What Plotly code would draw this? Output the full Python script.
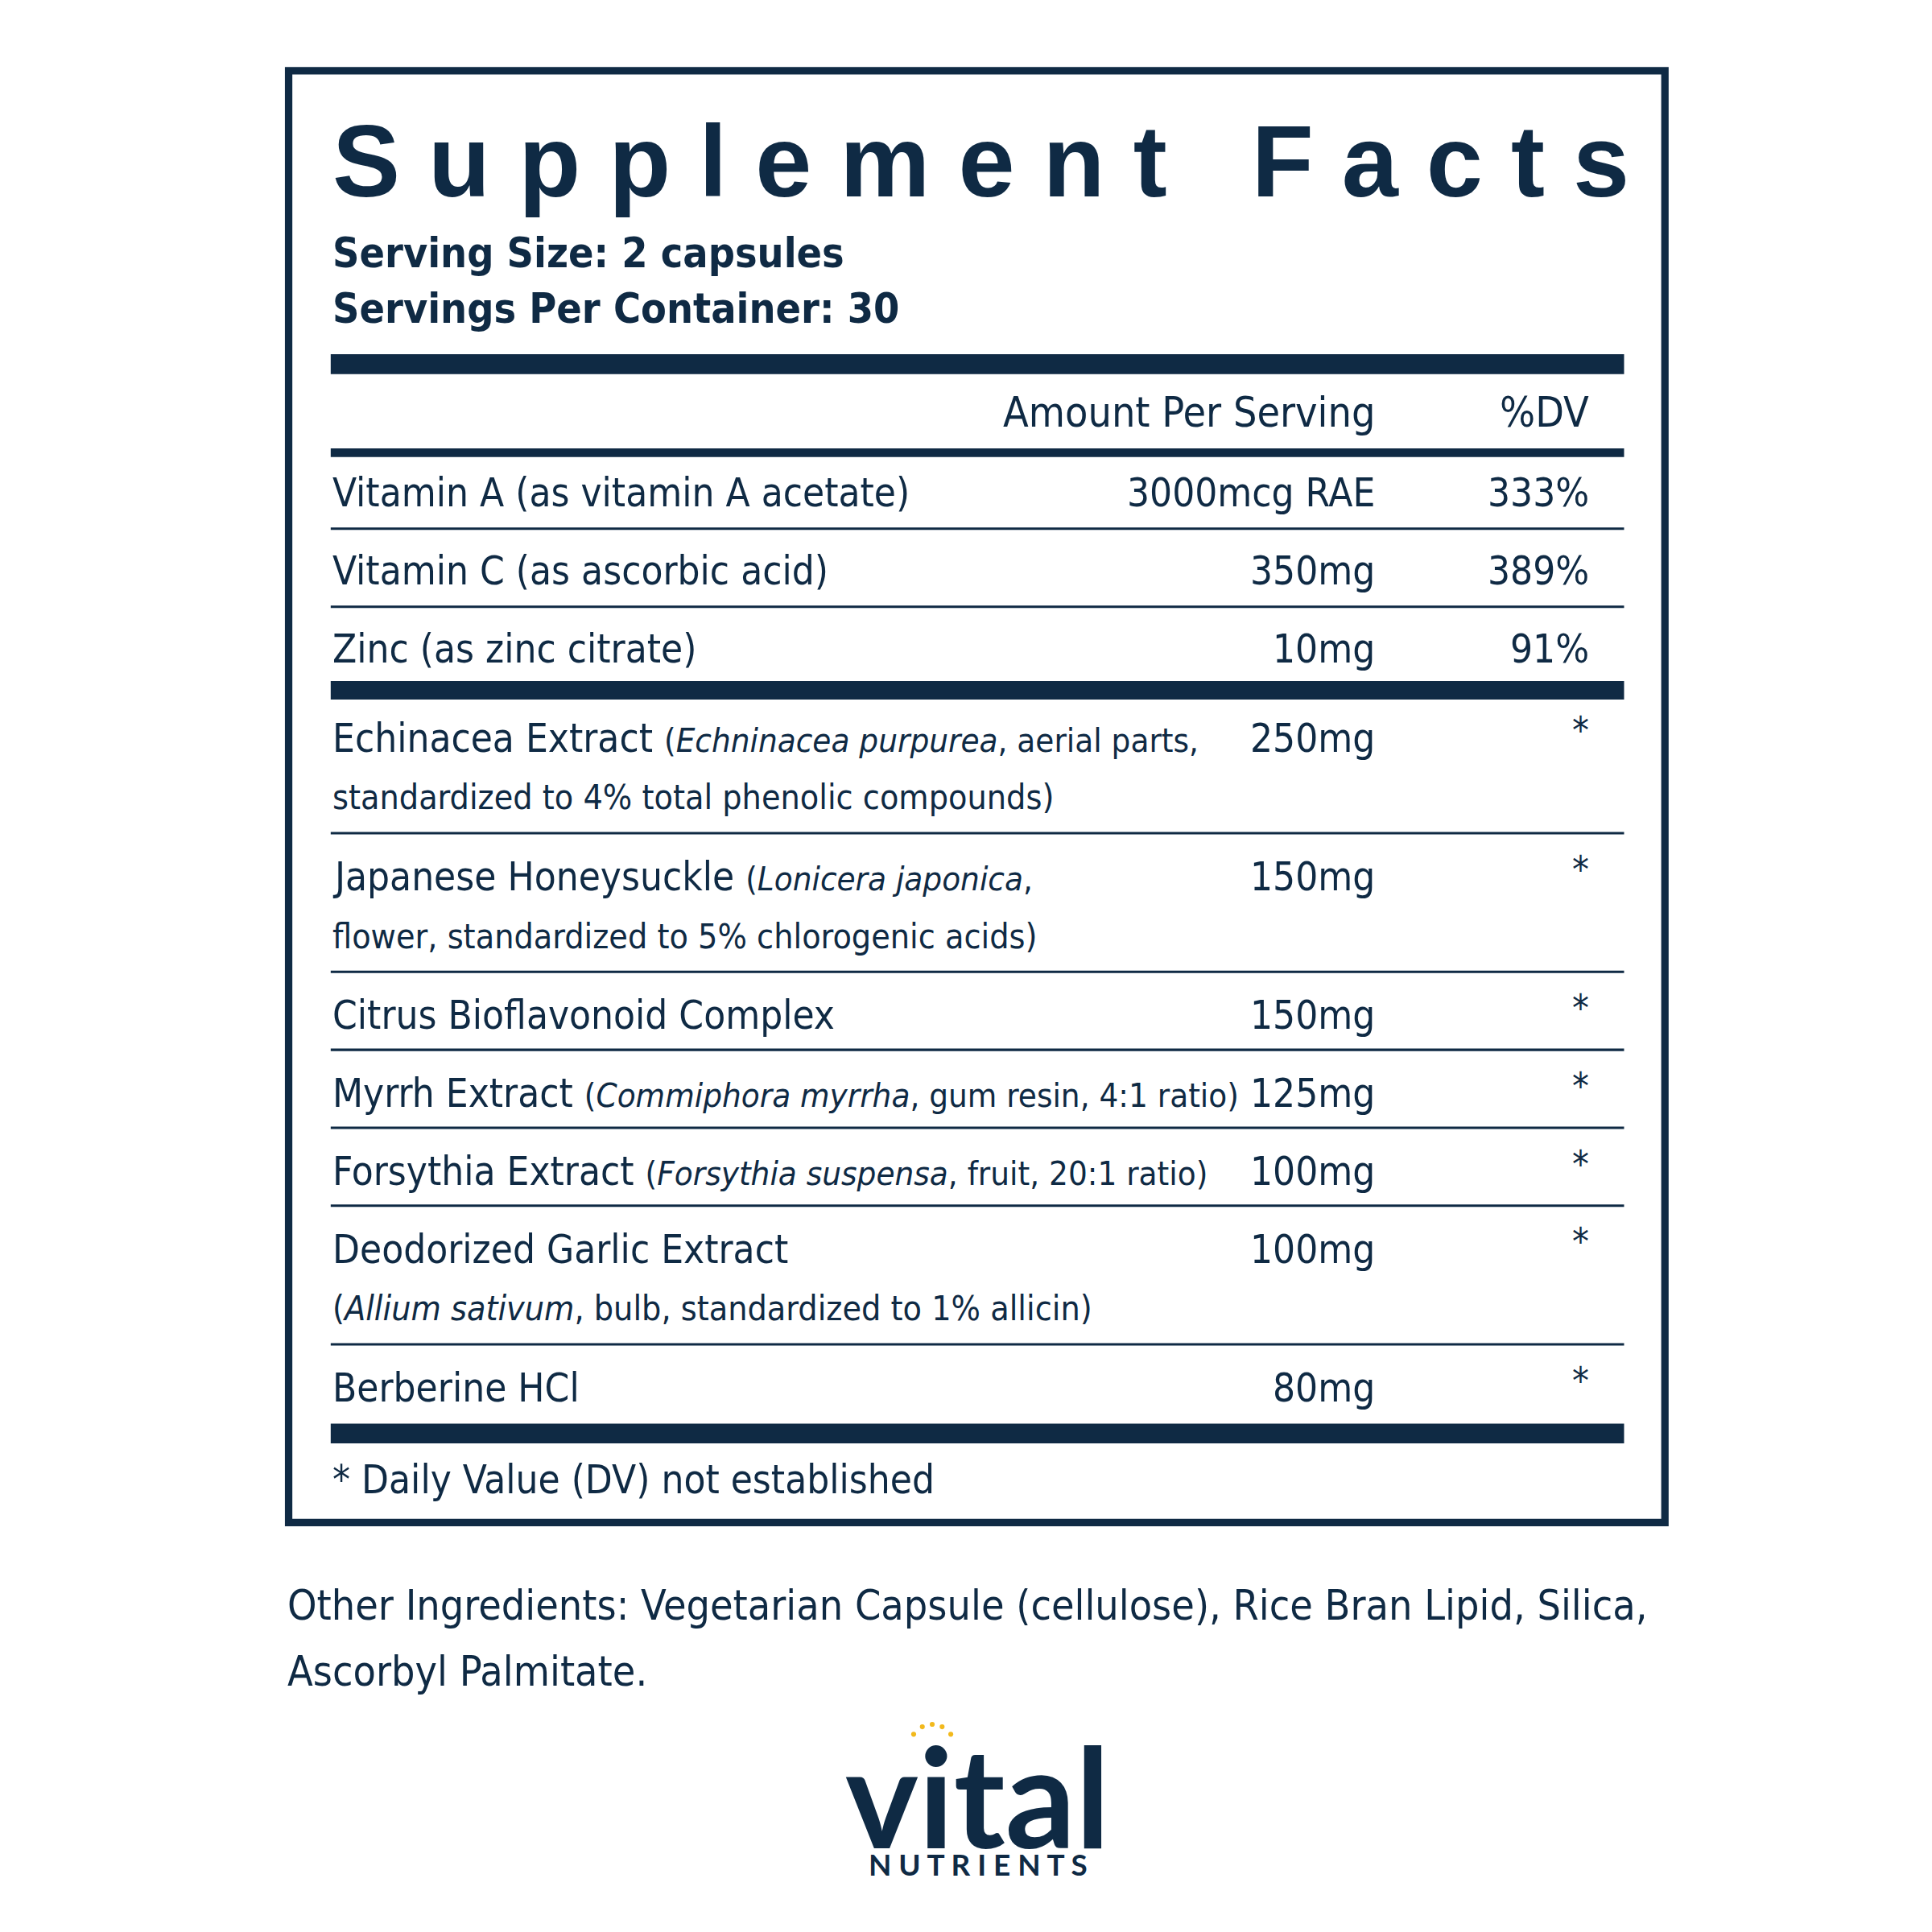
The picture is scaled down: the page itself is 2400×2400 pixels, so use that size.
import plotly.graph_objects as go

S = 2400 / 1561  # reference pixel -> figure pixel

# ---- data ----
vitamins = ["Vitamin A (as vitamin A acetate)", "Vitamin C (as ascorbic acid)", "Zinc (as zinc citrate)"]
vit_amounts = ["3000mcg RAE", "350mg", "10mg"]
vit_dv = ["333%", "389%", "91%"]

herbs_line1 = [
    "Echinacea Extract <span style='font-size:0.85em'>(<i>Echninacea purpurea</i>, aerial parts,</span>",
    "Japanese Honeysuckle <span style='font-size:0.85em'>(<i>Lonicera japonica</i>,</span>",
    "Citrus Bioflavonoid Complex",
    "Myrrh Extract <span style='font-size:0.85em'>(<i>Commiphora myrrha</i>, gum resin, 4:1 ratio)</span>",
    "Forsythia Extract <span style='font-size:0.85em'>(<i>Forsythia suspensa</i>, fruit, 20:1 ratio)</span>",
    "Deodorized Garlic Extract",
    "Berberine HCl",
]
herbs_line2 = [
    "standardized to 4% total phenolic compounds)",
    "flower, standardized to 5% chlorogenic acids)",
    "", "", "",
    "(<i>Allium sativum</i>, bulb, standardized to 1% allicin)",
    "",
]
herb_amounts = ["250mg", "150mg", "150mg", "125mg", "100mg", "100mg", "80mg"]
herb_dv = ["*"] * 7

NAVY = "#0f2a44"
FONT = "DejaVu Sans Condensed, Liberation Sans Narrow, DejaVu Sans, sans-serif"
K = 0.84  # width compensation for a wider font

shapes, ann = [], []

def hbar(y0, y1, x0=262, x1=1307):
    shapes.append(dict(type="rect", x0=x0, x1=x1, y0=y0, y1=y1, fillcolor=NAVY, line_width=0))

def text(x, y, t, size, anchor="left", bold=False, font=FONT, color=NAVY, k=K):
    if bold:
        t = "<b>" + t + "</b>"
    ann.append(dict(x=x, y=y, text=t, showarrow=False, xanchor=anchor, yanchor="middle",
                    font=dict(size=size * S * k, family=font, color=color)))

# outer box
shapes.append(dict(type="rect", x0=228, x1=1340, y0=52, y1=1225, line=dict(color=NAVY, width=6 * S)))

text(262, 125, "S u p p l e m e n t   F a c t s", 82, bold=True,
     font="Liberation Sans, Arial, sans-serif", k=1)
text(262, 199, "Serving Size: 2 capsules", 40, bold=True)
text(262, 244, "Servings Per Container: 30", 40, bold=True)
hbar(281, 297)
text(1107, 328, "Amount Per Serving", 40, anchor="right")
text(1280, 328, "%DV", 40, anchor="right")
hbar(357, 364)

y = 393
for i, (n, a, d) in enumerate(zip(vitamins, vit_amounts, vit_dv)):
    text(262, y, n, 38)
    text(1107, y, a, 38, anchor="right")
    text(1280, y, d, 38, anchor="right")
    if i < len(vitamins) - 1:
        hbar(y + 28, y + 30)
    y += 63
hbar(545, 560)

y = 591
for i, (l1, l2, a, d) in enumerate(zip(herbs_line1, herbs_line2, herb_amounts, herb_dv)):
    text(262, y, l1, 38)
    text(1107, y, a, 38, anchor="right")
    text(1280, y - 6, d, 36, anchor="right")
    h = 63
    if l2:
        text(262, y + 48, l2, 33)
        h = 112
    if i < len(herbs_line1) - 1:
        hbar(y + h - 36, y + h - 34)
    y += h
hbar(1145, 1161)
text(262, 1190, "* Daily Value (DV) not established", 38)

text(226, 1292, "Other Ingredients: Vegetarian Capsule (cellulose), Rice Bran Lipid, Silica,", 40)
text(226, 1345, "Ascorbyl Palmitate.", 40)

# logo
text(785, 1445, "vital", 112, anchor="center", bold=True, font="Lato, Roboto, sans-serif", k=1)
text(785, 1501, "N U T R I E N T S", 24, anchor="center", bold=True, font="Lato, Roboto, sans-serif", k=1)
sun_x = [733, 740, 748, 756, 763]
sun_y = [1396, 1390, 1388, 1390, 1396]

fig = go.Figure(go.Scatter(x=sun_x, y=sun_y, mode="markers", hoverinfo="skip",
                           marker=dict(color="#f2b91c", size=4 * S)))
fig.update_layout(
    width=2400, height=2400, margin=dict(l=0, r=0, t=0, b=0),
    plot_bgcolor="white", paper_bgcolor="white", showlegend=False,
    xaxis=dict(range=[0, 1561], visible=False, fixedrange=True),
    yaxis=dict(range=[1561, 0], visible=False, fixedrange=True),
    shapes=shapes, annotations=ann,
)
fig.write_html("out.html")
